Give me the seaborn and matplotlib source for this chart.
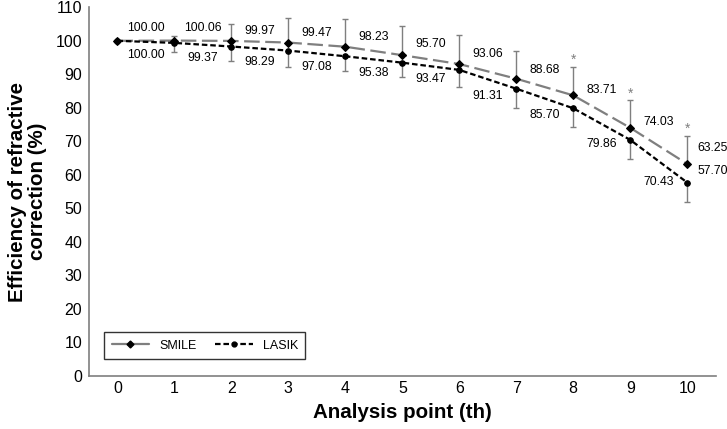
import numpy as np
import pandas as pd
import matplotlib
matplotlib.use("Agg")
import matplotlib.pyplot as plt
from matplotlib.lines import Line2D
import seaborn as sns

# -----------------------------
# Data
# -----------------------------
points = list(range(11))
smile = [100.00, 100.06, 99.97, 99.47, 98.23, 95.70, 93.06, 88.68, 83.71, 74.03, 63.25]
lasik = [100.00, 99.37, 98.29, 97.08, 95.38, 93.47, 91.31, 85.70, 79.86, 70.43, 57.70]
smile_err = [0, 1.4, 5.0, 7.2, 8.3, 8.7, 8.6, 8.2, 8.6, 8.2, 8.4]   # upper bars only
lasik_err = [0, 2.8, 4.3, 4.9, 4.5, 4.4, 5.1, 5.8, 5.6, 5.6, 5.8]   # lower bars only
significant = [8, 9, 10]

# label placement offsets (data units)
smile_lab_dx = [0.5] * 10 + [0.45]
smile_lab_dy = [3.7, 3.8, 3.0, 3.0, 2.9, 3.3, 3.0, 2.6, 1.5, 1.7, 4.8]
lasik_lab_dx = [0.5] * 10 + [0.45]
lasik_lab_dy = [-4.2, -4.6, -4.5, -4.9, -4.9, -5.0, -7.7, -7.8, -10.6, -12.6, 3.3]

df = pd.DataFrame({
    "Point": points * 2,
    "Efficiency": smile + lasik,
    "Group": ["SMILE"] * len(points) + ["LASIK"] * len(points),
})

sns.set_style("white")
plt.rcParams["font.family"] = ["Liberation Sans", "DejaVu Sans"]
plt.rcParams["text.color"] = "black"
plt.rcParams["axes.labelcolor"] = "black"
plt.rcParams["xtick.color"] = "black"
plt.rcParams["ytick.color"] = "black"

fig = plt.figure(figsize=(7.27, 4.29), dpi=100)
ax = fig.add_axes([0.1224, 0.124, 0.862, 0.859])

grey = "#7f7f7f"

# error bars first so lines sit on top
ax.errorbar(points, smile, yerr=[np.zeros(len(points)), smile_err], fmt="none",
            ecolor=grey, elinewidth=1, capsize=2.5, capthick=1, zorder=1)
ax.errorbar(points, lasik, yerr=[lasik_err, np.zeros(len(points))], fmt="none",
            ecolor=grey, elinewidth=1, capsize=2.5, capthick=1, zorder=1)

sns.lineplot(data=df, x="Point", y="Efficiency", hue="Group", style="Group",
             palette={"SMILE": grey, "LASIK": "black"},
             dashes={"SMILE": (7, 2.5), "LASIK": (2.5, 1.3)},
             markers={"SMILE": "D", "LASIK": "o"},
             markersize=4, markeredgecolor="black", markerfacecolor="black",
             linewidth=1.6, legend=False, ax=ax, zorder=2)

# data labels
for i, v in enumerate(smile):
    ax.text(points[i] + smile_lab_dx[i], v + smile_lab_dy[i], f"{v:.2f}",
            ha="center", va="center", fontsize=8.8, color="black")
for i, v in enumerate(lasik):
    ax.text(points[i] + lasik_lab_dx[i], v + lasik_lab_dy[i], f"{v:.2f}",
            ha="center", va="center", fontsize=8.8, color="black")

# significance marks
for p in significant:
    ax.text(p, smile[p] + smile_err[p] + 2.0, "*", ha="center", va="center",
            fontsize=10, color=grey)

ax.set_xlim(-0.5, 10.5)
ax.set_ylim(0, 110)
ax.set_xticks(points)
ax.set_yticks(range(0, 111, 10))
ax.tick_params(axis="both", length=0, labelsize=11.5, labelcolor="black")
ax.tick_params(axis="x", pad=4)
ax.tick_params(axis="y", pad=5)
for s in ["top", "right"]:
    ax.spines[s].set_visible(False)
for s in ["left", "bottom"]:
    ax.spines[s].set_color(grey)
    ax.spines[s].set_linewidth(1.2)

ax.set_xlabel("Analysis point (th)", fontsize=14.8, fontweight="bold",
              labelpad=5, color="black")
ax.set_ylabel("Efficiency of refractive\ncorrection (%)", fontsize=14.8,
              fontweight="bold", labelpad=6, linespacing=1.1, color="black")

handles = [
    Line2D([0], [0], color=grey, lw=1.6, marker="D", markersize=3.5,
           markerfacecolor="black", markeredgecolor="black"),
    Line2D([0], [0], color="black", lw=1.6, ls=(0, (2.5, 1.3)), marker="o",
           markersize=3.5, markerfacecolor="black", markeredgecolor="black"),
]
leg = ax.legend(handles, ["SMILE", "LASIK"], ncol=2, loc="lower left",
                bbox_to_anchor=(0.024, 0.045), borderaxespad=0, fontsize=9,
                frameon=True, fancybox=False, edgecolor="black",
                handlelength=3.0, columnspacing=1.5, borderpad=0.6)
leg.get_frame().set_linewidth(1.0)

fig.savefig("out.png", dpi=100)
